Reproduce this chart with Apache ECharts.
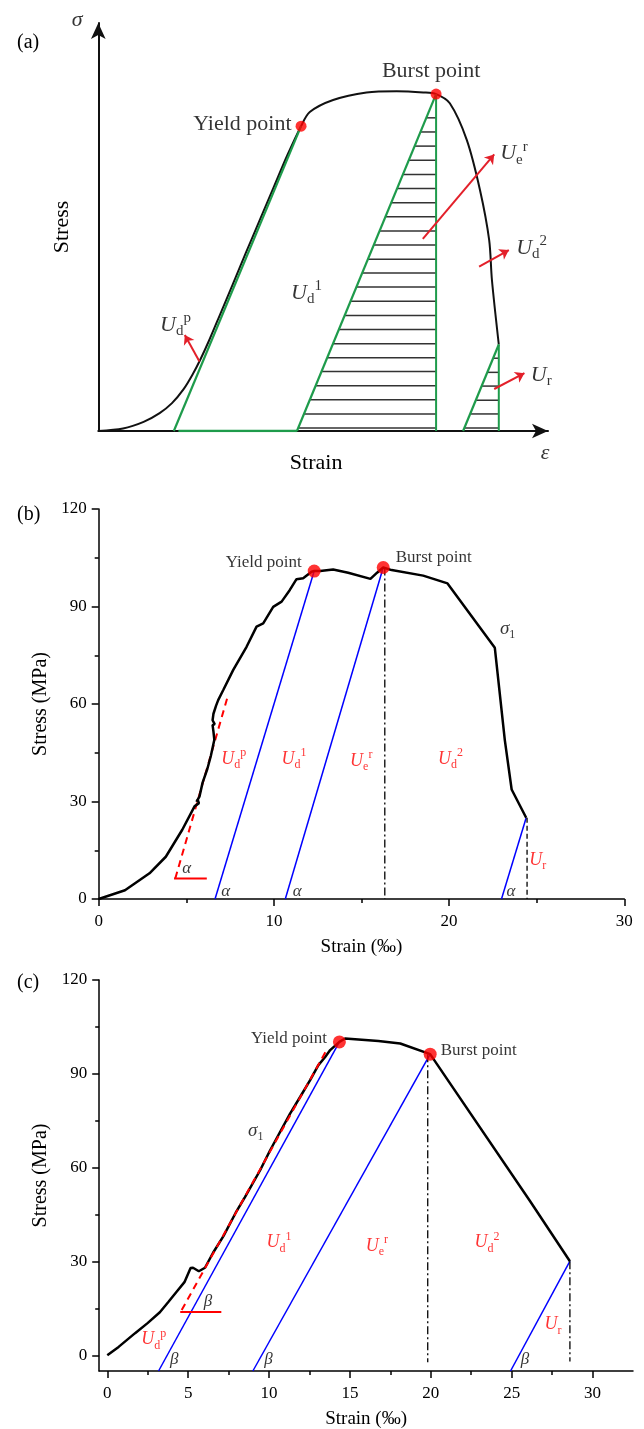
<!DOCTYPE html>
<html>
<head>
<meta charset="utf-8">
<script src="https://cdn.jsdelivr.net/npm/echarts@6/dist/echarts.min.js"></script>
<style>html,body{margin:0;padding:0;background:#fff}#c{width:644px;height:1429px}</style>
</head>
<body>
<div id="c"></div>
<script>
// ---------- Panel (a): schematic (arbitrary units) ----------
var aCurve = [[0,0],[5.4,0.6],[9.9,2.2],[13.4,4.3],[16.1,6.7],[18.6,10.0],[20.6,13.6],[22.3,17.2],[24.3,22.0],[26.6,28.0],[29.4,35.3],[32.3,43.0],[35.2,50.5],[38.4,58.8],[41.3,66.3],[44.3,73.3],[46.2,76.7],[51.3,79.6],[58.6,81.4],[65.2,81.7],[71.0,81.4],[73.8,81.0],[76.8,78.8],[80.5,70.0],[83.4,57.9],[85.4,45.9],[86.0,36.3],[87.5,20.8]];
var aGreenTangent = [[16.5,0],[44.3,73.3]];
var aGreenBase = [[17.5,0],[43.4,0]];
var aGreenUnload = [[43.4,0],[73.8,81.0]];
var aGreenVertical = [[73.8,0],[73.8,81.0]];
var aGreenSmall = [[79.7,0],[87.5,20.8]];
var aGreenSmallVertical = [[87.5,0],[87.5,20.8]];
var aHatchMain = [75.3,71.9,68.5,65.1,61.7,58.3,54.9,51.5,48.1,44.7,41.3,38.0,34.6,31.2,27.8,24.4,21.0,17.6,14.3,10.9,7.5,4.1,0.7];
var aHatchSmall = [17.5,14.1,10.8,7.4,4.1,0.7];
var aYield = [44.3,73.3];
var aBurst = [73.8,81.0];
var aArrows = [
  [[22.1,16.7],[18.9,23.1]],
  [[70.9,46.2],[86.5,66.5]],
  [[83.2,39.5],[89.7,43.5]],
  [[86.5,10.1],[93.1,13.9]]
];
var aLabels = [
  {pos:[13.5,25.5], text:'{u|U}{sub|d}{sup|p}'},
  {pos:[42.1,33.2], text:'{u|U}{sub|d}{sup|1}'},
  {pos:[87.8,66.8], text:'{u|U}{sub|e}{sup|r}'},
  {pos:[91.3,44.0], text:'{u|U}{sub|d}{sup|2}'},
  {pos:[94.5,13.5], text:'{u|U}{sub|r}'}
];
var aSigmaPos = [-4.6,98.8];
var aEpsPos = [97.6,-5.3];

// ---------- Panel (b) ----------
var bStrain = [0,1.5,2.9,3.83,4.77,5.47,5.72,5.65,5.58,5.75,5.93,6.2,6.4,6.6,6.55,6.5,6.62,6.5,6.55,6.7,6.82,7.11,7.68,8.44,9.01,9.39,9.96,10.44,10.91,11.29,11.67,12.15,12.3,12.64,13.38,14.24,15.51,15.89,16.24,16.72,18.52,19.91,22.61,23.18,23.57,24.4];
var bStress = [0,2.7,7.9,13,21.3,28.5,29.5,30.6,29.9,31.5,35.8,40,44,49,51.5,53.5,53.8,55,57,59.5,61.2,64.3,70.5,77.6,83.8,84.8,89.9,91.5,95.1,98.4,98.7,100.7,100.9,100.9,101.4,100.4,98.5,100.4,102,101.2,99.5,97.1,77.3,48.9,33.7,25];
var bYield = [12.3,100.9];
var bBurst = [16.24,102.0];
var bBlue = [
  [[6.64,0],[12.3,100.9]],
  [[10.65,0],[16.24,102.0]],
  [[22.99,0],[24.4,25]]
];
var bTangent = [[4.37,6.3],[7.4,63]];
var bAngleBase = [[4.3,6.3],[6.17,6.3]];
var bBurstDrop = [[16.33,102.0],[16.33,0]];
var bResidualDrop = [[24.45,25],[24.45,0]];
var bULabels = [
  {pos:[7.0,43], text:'{u|U}{sub|d}{sup|p}'},
  {pos:[10.44,43], text:'{u|U}{sub|d}{sup|1}'},
  {pos:[14.35,42.5], text:'{u|U}{sub|e}{sup|r}'},
  {pos:[19.37,43], text:'{u|U}{sub|d}{sup|2}'},
  {pos:[24.58,12], text:'{u|U}{sub|r}'}
];
var bAlpha = [[4.77,9.4],[6.99,2.2],[11.07,2.2],[23.27,2.2]];
var bSigmaPos = [22.9,83];

// ---------- Panel (c) ----------
var cStrain = [0,0.7,1.72,2.49,3.25,3.76,4.26,4.77,5.15,5.3,5.66,6.04,6.54,7.18,7.94,8.51,9.44,10.06,10.68,11.3,11.92,12.54,13.05,13.47,13.78,14.35,14.7,16.76,18.11,19.96,26.11,28.6];
var cStress = [0,2.7,7.1,10.3,13.8,17.0,20.2,23.4,27.9,28.0,26.9,28.0,32.8,38.1,45.6,50.6,59.1,65.5,71.4,77.3,82.6,88.0,92.8,95.4,97.6,100.2,101.3,100.5,99.7,96.3,49.5,30.1];
var cYield = [14.35,100.2];
var cBurst = [19.96,96.3];
var cBlue = [
  [[3.17,-5],[14.35,100.2]],
  [[9.0,-5],[19.96,96.3]],
  [[24.93,-5],[28.6,30.1]]
];
var cTangent = [[4.6,14.5],[13.6,98]];
var cAngleBase = [[4.51,13.9],[7.05,13.9]];
var cBurstDrop = [[19.81,96.3],[19.81,-2.2]];
var cResidualDrop = [[28.6,30.1],[28.6,-2.0]];
var cULabels = [
  {pos:[2.1,5.0], text:'{u|U}{sub|d}{sup|p}'},
  {pos:[9.84,36], text:'{u|U}{sub|d}{sup|1}'},
  {pos:[15.98,34.9], text:'{u|U}{sub|e}{sup|r}'},
  {pos:[22.7,36], text:'{u|U}{sub|d}{sup|2}'},
  {pos:[27.03,9.8], text:'{u|U}{sub|r}'}
];
var cBeta = [[5.96,17.3],[3.88,-1.4],[9.71,-1.4],[25.56,-1.4]];
var cSigmaPos = [8.7,71.8];

// tick values
var cXLabels = [0,5,10,15,20,25,30];
var cXMinor = [2.5,7.5,12.5,17.5,22.5,27.5];
var cYLabels = [0,30,60,90,120];
var cYMinor = [15,45,75,105];

// ---------- build ----------
var SERIF = 'Liberation Serif';
var GREEN = '#1e9b4b';
var RED = '#ff0000';
var BLUE = '#0000ff';

function zip(a,b){ return a.map(function(v,i){return [v,b[i]];}); }
function seg(data, xi, color, width, type){
  return {type:'line', xAxisIndex:xi, yAxisIndex:xi, data:data, symbol:'none', silent:true,
    lineStyle:{color:color, width:width, type:type||'solid'}, z:3};
}
function richStyles(size, subSize, color, lh){
  return {
    u:{fontFamily:SERIF, fontStyle:'italic', fontSize:size, color:color, lineHeight:lh},
    sub:{fontFamily:SERIF, fontSize:subSize, color:color, verticalAlign:'bottom', lineHeight:subSize},
    sup:{fontFamily:SERIF, fontSize:subSize, color:color, verticalAlign:'top', lineHeight:subSize},
    s:{fontFamily:SERIF, fontStyle:'italic', fontSize:size, color:color, lineHeight:lh}
  };
}
function textSeries(xi, items, rich){
  return {type:'scatter', xAxisIndex:xi, yAxisIndex:xi, symbolSize:0, silent:true, clip:false, z:6,
    data: items.map(function(it){ return {value:it.pos, label:{show:true, position:'right', distance:0, formatter:it.text, rich:rich}}; })
  };
}
function hatchRows(levels, line, xRight){
  var x0=line[0][0], y0=line[0][1], x1=line[1][0], y1=line[1][1];
  return levels.map(function(y){ return [x0+(x1-x0)*(y-y0)/(y1-y0), xRight, y]; });
}

var axisLabelStyle = {fontFamily:SERIF, fontSize:17, color:'#000'};
var axisLineStyle = {color:'#000', width:1.5};

var option = {
  animation:false,
  backgroundColor:'#fff',
  title:[
    {text:'(a)', left:12, top:28, textStyle:{fontFamily:SERIF, fontSize:20, fontWeight:'normal', color:'#000'}},
    {text:'(b)', left:12, top:500, textStyle:{fontFamily:SERIF, fontSize:20, fontWeight:'normal', color:'#000'}},
    {text:'(c)', left:12, top:968, textStyle:{fontFamily:SERIF, fontSize:20, fontWeight:'normal', color:'#000'}}
  ],
  grid:[
    {left:98.3, top:23, width:449.7, height:408, containLabel:false, outerBoundsMode:'none'},
    {left:98.7, top:509, width:525.6, height:390, containLabel:false, outerBoundsMode:'none'},
    {left:99.2, top:980, width:533.8, height:391, containLabel:false, outerBoundsMode:'none'}
  ],
  xAxis:[
    {gridIndex:0, type:'value', position:'bottom', min:0, max:98.25, splitLine:{show:false}, axisTick:{show:false}, axisLabel:{show:false},
      axisLine:{show:true, onZero:false, lineStyle:{color:'#111', width:2}, symbol:['none','arrow'], symbolSize:[11,16]},
      name:'Strain', nameLocation:'middle', nameGap:21, nameTextStyle:{fontFamily:SERIF, fontSize:22, color:'#000', padding:[0,14,0,0]}},
    {gridIndex:1, type:'value', position:'bottom', min:0, max:30, interval:10, splitLine:{show:false},
      axisLine:{onZero:false, lineStyle:axisLineStyle}, axisTick:{inside:false, length:7, lineStyle:axisLineStyle},
      minorTick:{show:true, splitNumber:2, length:4, lineStyle:axisLineStyle},
      axisLabel:Object.assign({margin:14}, axisLabelStyle),
      name:'Strain (‰)', nameLocation:'middle', nameGap:39, nameTextStyle:{fontFamily:SERIF, fontSize:19, color:'#000'}},
    {gridIndex:2, type:'value', position:'bottom', min:-0.5, max:32.5, splitLine:{show:false},
      axisLine:{onZero:false, lineStyle:axisLineStyle}, axisTick:{inside:false, length:7, lineStyle:axisLineStyle, customValues:cXLabels},
      axisLabel:Object.assign({margin:14, customValues:cXLabels}, axisLabelStyle),
      name:'Strain (‰)', nameLocation:'middle', nameGap:39, nameTextStyle:{fontFamily:SERIF, fontSize:19, color:'#000'}},
    {gridIndex:2, type:'value', position:'bottom', min:-0.5, max:32.5, splitLine:{show:false}, axisLine:{show:false, onZero:false},
      axisTick:{inside:false, length:4, lineStyle:axisLineStyle, customValues:cXMinor}, axisLabel:{show:false}}
  ],
  yAxis:[
    {gridIndex:0, type:'value', position:'left', min:0, max:98.1, splitLine:{show:false}, axisTick:{show:false}, axisLabel:{show:false},
      axisLine:{show:true, onZero:false, lineStyle:{color:'#111', width:2}, symbol:['none','arrow'], symbolSize:[11,16]},
      name:'Stress', nameLocation:'middle', nameGap:25, nameTextStyle:{fontFamily:SERIF, fontSize:22, color:'#000'}},
    {gridIndex:1, type:'value', position:'left', min:0, max:120, interval:30, splitLine:{show:false},
      axisLine:{onZero:false, lineStyle:axisLineStyle}, axisTick:{inside:false, length:7, lineStyle:axisLineStyle},
      minorTick:{show:true, splitNumber:2, length:4, lineStyle:axisLineStyle},
      axisLabel:Object.assign({margin:12}, axisLabelStyle),
      name:'Stress (MPa)', nameLocation:'middle', nameGap:44, nameTextStyle:{fontFamily:SERIF, fontSize:20, color:'#000'}},
    {gridIndex:2, type:'value', position:'left', min:-5, max:120, splitLine:{show:false},
      axisLine:{onZero:false, lineStyle:axisLineStyle}, axisTick:{inside:false, length:7, lineStyle:axisLineStyle, customValues:cYLabels},
      axisLabel:Object.assign({margin:12, customValues:cYLabels}, axisLabelStyle),
      name:'Stress (MPa)', nameLocation:'middle', nameGap:44, nameTextStyle:{fontFamily:SERIF, fontSize:20, color:'#000'}},
    {gridIndex:2, type:'value', position:'left', min:-5, max:120, splitLine:{show:false}, axisLine:{show:false, onZero:false},
      axisTick:{inside:false, length:4, lineStyle:axisLineStyle, customValues:cYMinor}, axisLabel:{show:false}}
  ],
  series:[]
};

var S = option.series;
// ----- (a)
S.push(seg(aGreenBase,0,GREEN,2.5));
S.push({type:'custom', xAxisIndex:0, yAxisIndex:0, silent:true, z:2,
  data: hatchRows(aHatchMain, aGreenUnload, aGreenVertical[0][0]).concat(hatchRows(aHatchSmall, aGreenSmall, aGreenSmallVertical[0][0])),
  renderItem:function(params, api){
    var p0 = api.coord([api.value(0), api.value(2)]);
    var p1 = api.coord([api.value(1), api.value(2)]);
    return {type:'line', shape:{x1:p0[0], y1:p0[1], x2:p1[0], y2:p1[1]}, style:{stroke:'#333', lineWidth:1.5}};
  }});
S.push({type:'line', xAxisIndex:0, yAxisIndex:0, data:aCurve, smooth:0.3, symbol:'none', silent:true, lineStyle:{color:'#111', width:2}, z:3});
S.push(seg(aGreenTangent,0,GREEN,2.2));
S.push(seg(aGreenUnload,0,GREEN,2.2));
S.push(seg(aGreenVertical,0,GREEN,2));
S.push(seg(aGreenSmall,0,GREEN,2.2));
S.push(seg(aGreenSmallVertical,0,GREEN,2));
S.push({type:'lines', coordinateSystem:'cartesian2d', xAxisIndex:0, yAxisIndex:0, silent:true, z:5,
  symbol:['none','arrow'], symbolSize:9, lineStyle:{color:'#e3202a', width:2, opacity:1},
  data: aArrows.map(function(c){ return {coords:c}; })});
S.push({type:'scatter', xAxisIndex:0, yAxisIndex:0, symbolSize:11, silent:true, z:6, itemStyle:{color:RED},
  data:[
    {value:aYield, label:{show:true, position:'left', distance:4, offset:[0,-2], formatter:'Yield point', fontFamily:SERIF, fontSize:22, color:'#000'}},
    {value:aBurst, label:{show:true, position:'top', distance:6, offset:[-5,0], formatter:'Burst point', fontFamily:SERIF, fontSize:22, color:'#000'}}
  ]});
S.push(textSeries(0, aLabels, richStyles(22,15,'#000',28)));
S.push({type:'scatter', xAxisIndex:0, yAxisIndex:0, symbolSize:0, silent:true, clip:false, z:6,
  data:[
    {value:aSigmaPos, label:{show:true, position:'inside', formatter:'σ', fontFamily:SERIF, fontStyle:'italic', fontSize:22, color:'#000'}},
    {value:aEpsPos, label:{show:true, position:'inside', formatter:'ε', fontFamily:SERIF, fontStyle:'italic', fontSize:22, color:'#000'}}
  ]});

// ----- (b)
bBlue.forEach(function(d){ S.push(seg(d,1,BLUE,1.5)); });
S.push(seg(bBurstDrop,1,'#000',1.3,[8,3,2,3]));
S.push(seg(bResidualDrop,1,'#000',1.3,[5,3]));
S.push(seg(bTangent,1,RED,2,[7,5]));
S.push(seg(bAngleBase,1,RED,2));
S.push({type:'line', xAxisIndex:1, yAxisIndex:1, data:zip(bStrain,bStress), symbol:'none', silent:true, lineStyle:{color:'#000', width:2.5}, z:4});
S.push({type:'scatter', xAxisIndex:1, yAxisIndex:1, symbolSize:13, silent:true, z:6, itemStyle:{color:RED},
  data:[
    {value:bYield, label:{show:true, position:'left', distance:6, offset:[0,-9], formatter:'Yield point', fontFamily:SERIF, fontSize:17, color:'#000'}},
    {value:bBurst, label:{show:true, position:'right', distance:6, offset:[0,-10], formatter:'Burst point', fontFamily:SERIF, fontSize:17, color:'#000'}}
  ]});
S.push(textSeries(1, bULabels, richStyles(18,12,RED,24)));
S.push(textSeries(1, bAlpha.map(function(p){return {pos:p, text:'{s|α}'};}), richStyles(17,12,'#000',20)));
S.push(textSeries(1, [{pos:bSigmaPos, text:'{s|σ}{sub|1}'}], richStyles(19,12,'#000',24)));

// ----- (c)
cBlue.forEach(function(d){ S.push(seg(d,2,BLUE,1.5)); });
S.push(seg(cBurstDrop,2,'#000',1.3,[8,3,2,3]));
S.push(seg(cResidualDrop,2,'#000',1.3,[8,3,2,3]));
S.push({type:'line', xAxisIndex:2, yAxisIndex:2, data:zip(cStrain,cStress), symbol:'none', silent:true, lineStyle:{color:'#000', width:2.5}, z:4});
S.push(Object.assign(seg(cTangent,2,RED,2,[7,5]),{z:5}));
S.push(seg(cAngleBase,2,RED,2));
S.push({type:'scatter', xAxisIndex:2, yAxisIndex:2, symbolSize:13, silent:true, z:6, itemStyle:{color:RED},
  data:[
    {value:cYield, label:{show:true, position:'left', distance:6, offset:[0,-3], formatter:'Yield point', fontFamily:SERIF, fontSize:17, color:'#000'}},
    {value:cBurst, label:{show:true, position:'right', distance:4, offset:[0,-4], formatter:'Burst point', fontFamily:SERIF, fontSize:17, color:'#000'}}
  ]});
S.push(textSeries(2, cULabels, richStyles(18,12,RED,24)));
S.push(textSeries(2, cBeta.map(function(p){return {pos:p, text:'{s|β}'};}), richStyles(17,12,'#000',20)));
S.push(textSeries(2, [{pos:cSigmaPos, text:'{s|σ}{sub|1}'}], richStyles(19,12,'#000',24)));

var chart = echarts.init(document.getElementById('c'), null, {renderer:'canvas'});
chart.setOption(option);
</script>
</body>
</html>
